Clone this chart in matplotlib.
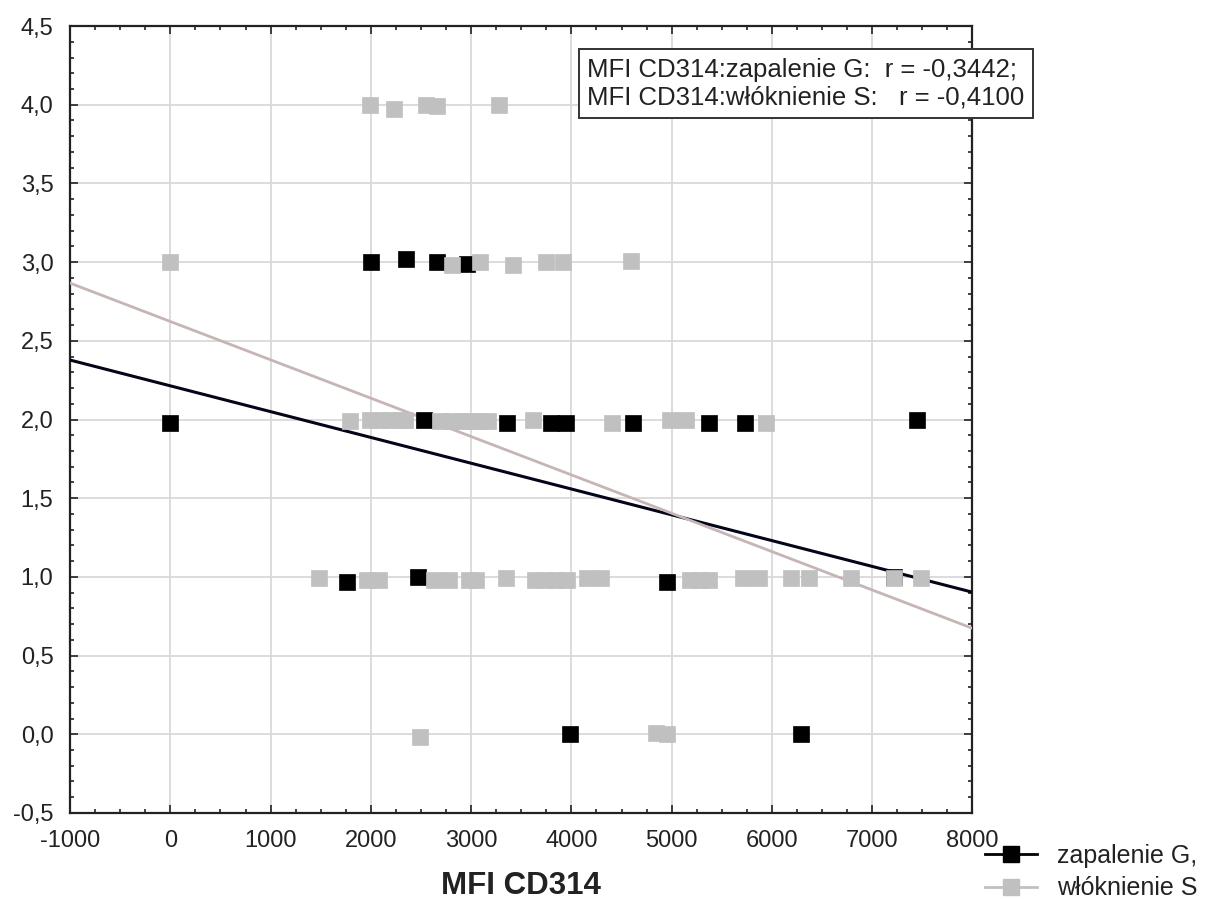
import numpy as np
import matplotlib
matplotlib.use("Agg")
import matplotlib.pyplot as plt
from matplotlib.ticker import MultipleLocator, FuncFormatter

plt.rcParams['font.family'] = ['Liberation Sans', 'DejaVu Sans']
plt.rcParams['axes.unicode_minus'] = False

# zapalenie G (black squares)
zap_x = [2000, 2350, 2660, 2960,
         0, 2530, 3360, 3800, 3950, 4610, 5370, 5730, 7450,
         1760, 2470, 4950, 7220,
         3990, 6290]
zap_y = [3.00, 3.02, 3.00, 2.99,
         1.98, 2.00, 1.98, 1.98, 1.98, 1.98, 1.98, 1.98, 2.00,
         0.97, 1.00, 0.97, 1.00,
         0.00, 0.00]

# włóknienie S (grey squares)
wlo_x = [1990, 2230, 2550, 2660, 3280,
         0, 2810, 3090, 3420, 3750, 3920, 4590,
         1790, 1990, 2100, 2200, 2300, 2340, 2690, 2800, 2900, 3000, 3100, 3170,
         3620, 4410, 4980, 5140, 5940,
         1480, 1960, 2080, 2630, 2780, 2980, 3050, 3350, 3640, 3750, 3850, 3960,
         4160, 4300, 5180, 5280, 5370, 5710, 5870, 6190, 6370, 6790, 7220, 7490,
         2490, 4840, 4950]
wlo_y = [4.00, 3.97, 4.00, 3.99, 4.00,
         3.00, 2.98, 3.00, 2.98, 3.00, 3.00, 3.01,
         1.99, 2.00, 2.00, 2.00, 2.00, 2.00, 1.99, 1.99, 1.99, 1.99, 1.99, 1.99,
         2.00, 1.98, 2.00, 2.00, 1.98,
         0.99, 0.98, 0.98, 0.98, 0.98, 0.98, 0.98, 0.99, 0.98, 0.98, 0.98, 0.98,
         0.99, 0.99, 0.98, 0.98, 0.98, 0.99, 0.99, 0.99, 0.99, 0.99, 0.99, 0.99,
         -0.02, 0.01, 0.00]

# fitted lines: intercept, slope
zap_fit = (2.214, -0.0001639)
wlo_fit = (2.623, -0.0002437)
r_zap = "-0,3442"
r_wlo = "-0,4100"

fig = plt.figure(figsize=(12.08, 8.99), dpi=100)
ax = fig.add_axes([0.058, 0.0957, 0.747, 0.8753])

xx = np.array([-1000, 8000])
ax.plot(xx, zap_fit[0] + zap_fit[1] * xx, color='#05051a', lw=2.2, zorder=3)
ax.plot(xx, wlo_fit[0] + wlo_fit[1] * xx, color='#c7b5b5', lw=2.0, zorder=3)

ax.plot(zap_x, zap_y, ls='none', marker='s', ms=11.5, mew=0.5, mfc='black', mec='black', zorder=4)
ax.plot(wlo_x, wlo_y, ls='none', marker='s', ms=11.5, mew=0.5, mfc='#c0c0c0', mec='#c0c0c0', zorder=5)

ax.set_xlim(-1000, 8000)
ax.set_ylim(-0.5, 4.5)
ax.xaxis.set_major_locator(MultipleLocator(1000))
ax.xaxis.set_minor_locator(MultipleLocator(250))
ax.yaxis.set_major_locator(MultipleLocator(0.5))
ax.yaxis.set_minor_locator(MultipleLocator(0.1))
ax.yaxis.set_major_formatter(FuncFormatter(lambda v, p: f"{v:.1f}".replace('.', ',')))
ax.grid(True, which='major', color='#d9d9d9', lw=1.3)
ax.set_axisbelow(True)
ax.tick_params(which='both', direction='in', top=True, right=True, colors='#222222',
               labelsize=17, width=1.2)
ax.tick_params(which='major', length=6)
ax.tick_params(which='minor', length=3)
ax.tick_params(axis='x', pad=12)
ax.tick_params(axis='y', pad=12)
for s in ax.spines.values():
    s.set_linewidth(1.6)
    s.set_color('#222222')

ax.set_xlabel("MFI CD314", fontsize=22.5, fontweight='bold', color='#222222', labelpad=14)

fig.text(0.486, 0.907,
         f"MFI CD314:zapalenie G:  r = {r_zap};\nMFI CD314:włóknienie S:   r = {r_wlo}",
         fontsize=18.5, color='#222222', va='center', ha='left', linespacing=1.2,
         bbox=dict(boxstyle='square,pad=0.33', fc='white', ec='#333333', lw=1.4),
         zorder=10)

h1, = ax.plot([], [], color='black', marker='s', ms=11.5, lw=2)
h2, = ax.plot([], [], color='#c0c0c0', marker='s', ms=11.5, lw=2)
fig.legend([h1, h2], ["zapalenie G,", "włóknienie S"], loc='center left',
           bbox_to_anchor=(0.815, 0.03), frameon=False, fontsize=18,
           handlelength=2.1, labelspacing=0.35, handletextpad=0.8,
           borderpad=0, borderaxespad=0, labelcolor='#222222')

fig.savefig("out.png", dpi=100, facecolor='white')
